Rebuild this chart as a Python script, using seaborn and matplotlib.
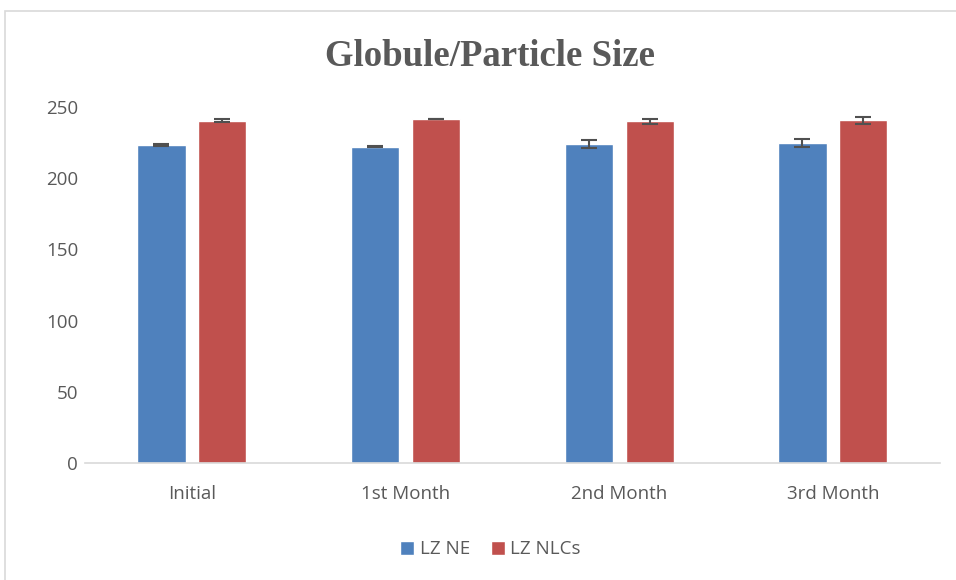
import pandas as pd
import numpy as np
import matplotlib.pyplot as plt
import seaborn as sns
from matplotlib.patches import Rectangle

# Data
categories = ['Initial', '1st Month', '2nd Month', '3rd Month']
series_names = ['LZ NE', 'LZ NLCs']
ne_values = [223.3, 222.2, 224.0, 224.8]
nlc_values = [240.5, 241.6, 239.9, 240.6]
ne_errors = [0.7, 0.5, 2.9, 2.6]
nlc_errors = [0.8, 0.3, 2.0, 2.3]
y_ticks = [0, 50, 100, 150, 200, 250]

colors = ['#4F81BD', '#C0504D']
text_color = '#595959'

df = pd.DataFrame({
    'category': categories * 2,
    'series': [series_names[0]] * 4 + [series_names[1]] * 4,
    'value': ne_values + nlc_values,
    'err': ne_errors + nlc_errors,
})

sns.set_style('white')
plt.rcParams['font.family'] = ['Open Sans', 'DejaVu Sans']

fig = plt.figure(figsize=(9.56, 5.8), dpi=100)
ax = fig.add_axes([0.089, 0.2017, 0.894, 0.6138])

sns.barplot(data=df, x='category', y='value', hue='series', order=categories,
            hue_order=series_names, palette=colors, width=0.57, gap=0.21,
            errorbar=None, saturation=1, ax=ax, legend=True)

# Error bars placed on the bar centres
for container, name in zip(ax.containers, series_names):
    errs = df[df['series'] == name]['err'].values
    vals = df[df['series'] == name]['value'].values
    xs = [p.get_x() + p.get_width() / 2 for p in container.patches]
    ax.errorbar(xs, vals, yerr=errs, fmt='none', ecolor='#505050',
                elinewidth=1.5, capsize=5.5, capthick=1.5)

ax.set_ylim(0, 250)
ax.set_xlim(-0.5, 3.5)
ax.set_yticks(y_ticks)
ax.set_xlabel('')
ax.set_ylabel('')
ax.tick_params(axis='y', length=0, labelsize=13.5, labelcolor=text_color, pad=5)
ax.tick_params(axis='x', length=0, labelsize=13.5, labelcolor=text_color, pad=16)

for side in ['top', 'right', 'left']:
    ax.spines[side].set_visible(False)
ax.spines['bottom'].set_color('#D9D9D9')
ax.spines['bottom'].set_linewidth(1.2)

fig.text(0.513, 0.902, 'Globule/Particle Size', ha='center', va='center',
         fontsize=26.5, fontweight='bold', family='Liberation Serif', color=text_color)

handles, labels = ax.get_legend_handles_labels()
ax.legend_.remove()
fig.legend(handles, labels, loc='center', bbox_to_anchor=(0.513, 0.053), ncol=2,
           frameon=False, fontsize=13.5, handlelength=0.75, handleheight=0.75,
           handletextpad=0.3, columnspacing=1.1, labelcolor=text_color)

# Outer chart border
fig.patches.append(Rectangle((0.005, -0.01), 1.0, 0.991, transform=fig.transFigure,
                             fill=False, edgecolor='#D9D9D9', linewidth=1.2))

plt.savefig('out.png', dpi=100)
